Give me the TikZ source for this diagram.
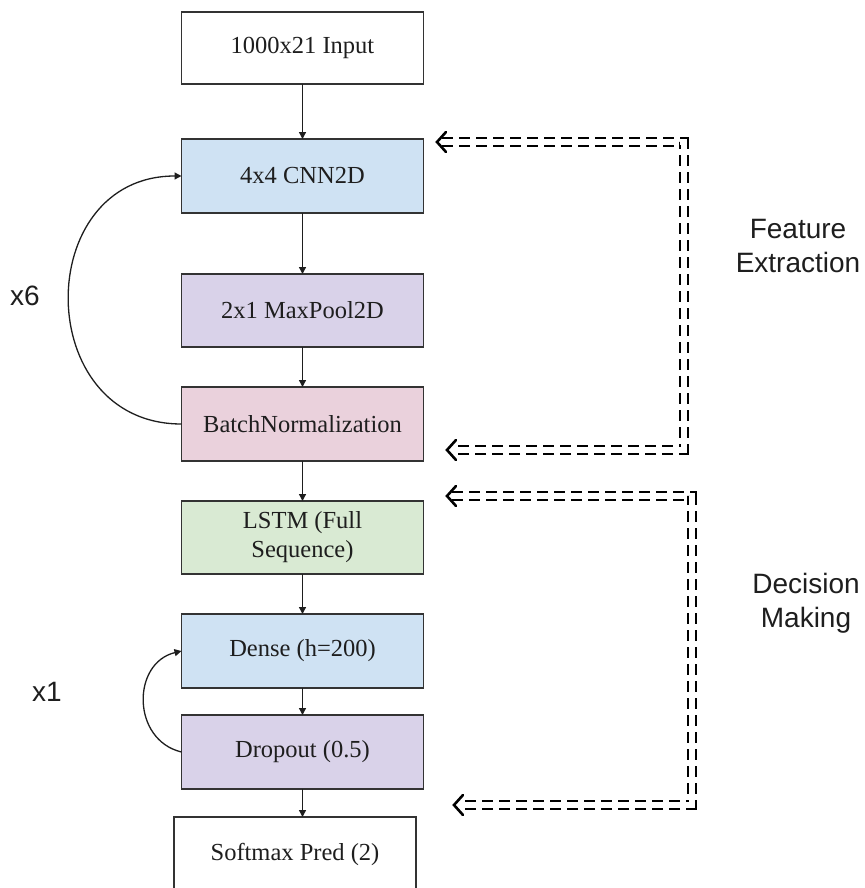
\documentclass[tikz,border=0pt]{standalone}
\usepackage{fontspec}
\setmainfont{Liberation Serif}
\newfontfamily\labelfont{Liberation Sans}
\usetikzlibrary{arrows.meta}

\definecolor{cnnblue}{HTML}{CFE2F3}
\definecolor{poolviolet}{HTML}{D9D2E9}
\definecolor{normpink}{HTML}{EAD1DC}
\definecolor{lstmgreen}{HTML}{D9EAD3}
\definecolor{edgegray}{HTML}{333333}
\definecolor{inkgray}{HTML}{1E1E1E}

\tikzset{
  layer/.style={draw=edgegray, line width=1.5pt, rectangle, inner sep=0pt, outer sep=0pt,
    minimum width=242pt, minimum height=74pt, text=inkgray, align=center,
    font=\fontsize{24.5}{29}\selectfont},
  flow/.style={draw=inkgray, line width=1.3pt, -{Triangle[length=7pt,width=7pt]}},
  loop/.style={draw=inkgray, line width=1.3pt, -{Triangle[length=7pt,width=7pt]}},
  bracket/.style={draw=black, line width=2.3pt, double=white, double distance=5.5pt,
    dash pattern=on 11pt off 6pt},
  chev/.style={draw=black, line width=2.6pt, line cap=round, line join=miter},
  sidelabel/.style={font=\labelfont\fontsize{28}{34}\selectfont, text=inkgray, align=center},
}

\begin{document}
\begin{tikzpicture}[x=1pt, y=-1pt]
  \useasboundingbox (0,0) rectangle (864,888);
  \fill[white] (0,0) rectangle (864,888);

  % layer stack
  \node[layer, minimum height=72pt]          (inp)   at (302.5,48)    {1000x21 Input};
  \node[layer, fill=cnnblue]                 (cnn)   at (302.5,176)   {4x4 CNN2D};
  \node[layer, fill=poolviolet, minimum height=73pt] (pool) at (302.5,310.5) {2x1 MaxPool2D};
  \node[layer, fill=normpink]                (bn)    at (302.5,424)   {BatchNormalization};
  \node[layer, fill=lstmgreen, minimum height=73pt] (lstm) at (302.5,537.5) {LSTM (Full\\Sequence)};
  \node[layer, fill=cnnblue]                 (dense) at (302.5,651)   {Dense (h=200)};
  \node[layer, fill=poolviolet]              (drop)  at (302.5,752)   {Dropout (0.5)};
  \node[layer, minimum height=75pt]          (soft)  at (295,854.5)   {Softmax Pred (2)};

  % forward connections
  \draw[flow] (inp.south)   -- (cnn.north);
  \draw[flow] (cnn.south)   -- (pool.north);
  \draw[flow] (pool.south)  -- (bn.north);
  \draw[flow] (bn.south)    -- (lstm.north);
  \draw[flow] (lstm.south)  -- (dense.north);
  \draw[flow] (dense.south) -- (drop.north);
  \draw[flow] (drop.south)  -- (drop.south |- soft.north);

  % repetition loops
  \draw[loop] (bn.west) .. controls +(-150,0) and +(-150,0) .. (cnn.west);
  \draw[loop] (drop.west) .. controls +(-50,-12) and +(-50,12) .. (dense.west);
  \node[sidelabel] (rep6) at (25,296) {x6};
  \node[sidelabel] (rep1) at (47,692) {x1};

  % stage brackets
  \coordinate (fetop) at (437,142);
  \coordinate (fex)   at (684,296);
  \coordinate (febot) at (447,450);
  \coordinate (dmtop) at (447,496);
  \coordinate (dmx)   at (692,650);
  \coordinate (dmbot) at (454,805);

  \draw[bracket] ([xshift=5pt]fetop) -| (fex) |- ([xshift=5pt]febot);
  \draw[bracket] ([xshift=5pt]dmtop) -| (dmx) |- ([xshift=5pt]dmbot);
  \foreach \tip in {fetop,febot,dmtop,dmbot}
    \draw[chev] ([xshift=9pt,yshift=10pt]\tip) -- (\tip) -- ([xshift=9pt,yshift=-10pt]\tip);

  \node[sidelabel] (fe) at (798,246) {Feature\\Extraction};
  \node[sidelabel] (dm) at (806,603) {Decision\\Making};
\end{tikzpicture}
\end{document}
